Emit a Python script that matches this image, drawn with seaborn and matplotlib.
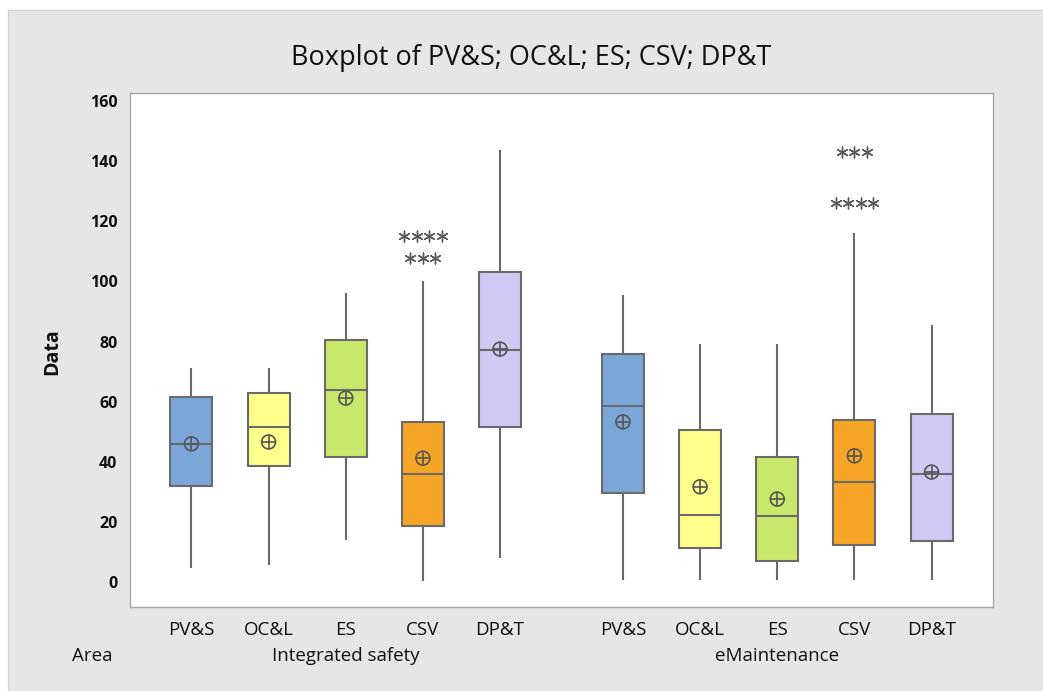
import numpy as np
import pandas as pd
import matplotlib.pyplot as plt
import seaborn as sns
from matplotlib.patches import Rectangle

# Values
areas = ['Integrated safety', 'eMaintenance']
variables = ['PV&S', 'OC&L', 'ES', 'CSV', 'DP&T']
colors = ['#7BA6D8', '#FFFF8C', '#C9E86B', '#F7A526', '#D1C9F3']

# five-number summaries, one row per area (order as in variables)
lows = [[4.7, 5.7, 14.0, 0.5, 8.0], [0.8, 0.8, 0.8, 0.8, 0.8]]
q1s = [[32.0, 38.6, 41.6, 18.6, 51.6], [29.7, 11.3, 7.0, 12.3, 13.6]]
medians = [[45.9, 51.6, 63.9, 35.9, 77.2], [58.5, 22.3, 22.0, 33.3, 35.9]]
q3s = [[61.5, 62.9, 80.5, 53.2, 103.1], [75.8, 50.6, 41.6, 53.9, 55.9]]
highs = [[71.2, 71.2, 96.1, 100.1, 143.7], [95.5, 79.2, 79.2, 116.0, 85.5]]
means = [[46.0, 46.6, 61.2, 41.2, 77.5], [53.3, 31.7, 27.6, 42.0, 36.6]]

# outliers shown as asterisks: (area, variable, value, how many)
outliers = [
    ('Integrated safety', 'CSV', 115.1, 4),
    ('Integrated safety', 'CSV', 107.8, 3),
    ('eMaintenance', 'CSV', 143.0, 3),
    ('eMaintenance', 'CSV', 126.1, 4),
]

rows = []
for a, area in enumerate(areas):
    for v, var in enumerate(variables):
        for stat in (lows, q1s, medians, q3s, highs):
            rows.append({'Area': area, 'Variable': var, 'Data': stat[a][v]})
df = pd.DataFrame(rows)

sns.set_style('white')
plt.rcParams['font.family'] = ['Open Sans', 'DejaVu Sans']
txt = '#111111'

W, H = 1043, 691
fig = plt.figure(figsize=(W / 100, H / 100), dpi=100)
fig.patches.append(Rectangle((8 / W, 0), 1, 1 - 10 / H, transform=fig.transFigure,
                             facecolor='#E6E6E6', edgecolor='#D2D2D2', zorder=-10))
ax = fig.add_axes([130 / W, 1 - 607 / H, (993 - 130) / W, (607 - 93) / H])

box_width = 0.894
sns.boxplot(data=df, x='Area', y='Data', hue='Variable', order=areas,
            hue_order=variables, palette=dict(zip(variables, colors)),
            saturation=1, width=box_width, gap=0.455, whis=(0, 100),
            linecolor='#6A6A6A', linewidth=1.5, showcaps=False,
            showfliers=False, legend=False, ax=ax)

step = box_width / len(variables)
positions = {}
for a, area in enumerate(areas):
    for v, var in enumerate(variables):
        positions[(area, var)] = a + (v - 2) * step

# mean symbols (circle with cross)
mx = [positions[(area, var)] for area in areas for var in variables]
my = [means[a][v] for a in range(len(areas)) for v in range(len(variables))]
sns.scatterplot(x=mx, y=my, marker='o', s=100, facecolor='none',
                edgecolor='#555555', linewidth=1.2, zorder=5, ax=ax)
sns.scatterplot(x=mx, y=my, marker='+', s=100, color='#555555',
                linewidth=1.2, zorder=5, ax=ax)

# outliers, side by side
spacing = 0.029
ox, oy = [], []
for area, var, value, n in outliers:
    for j in range(n):
        ox.append(positions[(area, var)] + (j - (n - 1) / 2) * spacing)
        oy.append(value)
ax.scatter(ox, oy, marker=(6, 2, 0), s=60, color='#595959', linewidths=1.0, zorder=5)

ax.set_xlim(-0.5, 1.5)
ax.set_ylim(-8.3, 162.7)
ax.set_yticks(np.arange(0, 161, 20))
ax.set_yticklabels([str(t) for t in range(0, 161, 20)], fontweight='bold', fontsize=11.5)
ax.set_xticks(mx)
ax.set_xticklabels(variables * 2, fontsize=13.5)
ax.tick_params(axis='both', length=6, color='#9A9A9A', labelcolor=txt, direction='out')
ax.tick_params(axis='x', pad=4)
ax.tick_params(axis='y', pad=3)
for s in ax.spines.values():
    s.set_color('#A6A6A6')
    s.set_linewidth(1)
ax.set_xlabel('')
ax.set_ylabel('')

trans = ax.get_xaxis_transform()
for a, area in enumerate(areas):
    ax.text(a, -(656 - 607) / 514, area, transform=trans, ha='center', va='center',
            fontsize=13.5, color=txt)
fig.text(92 / W, 1 - 656 / H, 'Area', ha='center', va='center', fontsize=13.5, color=txt)
fig.text(52 / W, 1 - 352 / H, 'Data', rotation=90, ha='center', va='center',
         fontsize=14, fontweight='bold', color=txt)
fig.text(531 / W, 1 - 58 / H, 'Boxplot of PV&S; OC&L; ES; CSV; DP&T',
         ha='center', va='center', fontsize=19.5, color=txt)

fig.savefig('out.png', dpi=100)
